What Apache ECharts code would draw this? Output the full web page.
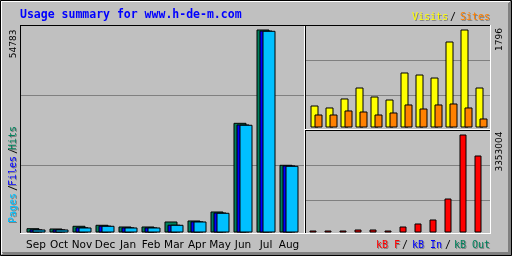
<!DOCTYPE html>
<html><head><meta charset="utf-8">
<script src="https://cdn.jsdelivr.net/npm/echarts@6/dist/echarts.min.js"></script>
<style>html,body{margin:0;padding:0;background:#c0c0c0}#c{width:512px;height:256px}</style>
</head><body><div id="c"></div>
<script>
const months = ['Sep','Oct','Nov','Dec','Jan','Feb','Mar','Apr','May','Jun','Jul','Aug'];
const hits   = [1160, 1080, 1810, 2080, 1620, 1620, 2970, 3240, 5670, 29600, 54783, 18270];
const files  = [850, 840, 1400, 1850, 1380, 1370, 2100, 3000, 5400, 29150, 54500, 18100];
const pages  = [810, 810, 1350, 1810, 1350, 1350, 2080, 2970, 5320, 29070, 54430, 18000];
const visits = [403, 367, 532, 733, 568, 513, 1008, 971, 916, 1576, 1796, 733];
const sites  = [238, 238, 312, 293, 238, 275, 422, 348, 422, 440, 367, 165];
const kbytes = [68000, 68000, 68000, 103000, 103000, 68000, 205000, 308000, 445000, 1163000, 3353004, 2634000];
const maxHits = 54783, maxVisits = 1796, maxKB = 3353004;
const title = 'Usage summary for www.h-de-m.com';

const MONO = "'DejaVu Sans Mono', monospace";
const SANS = "'DejaVu Sans', sans-serif";
const GREY = '#c0c0c0', DK = '#808080';

const chart = echarts.init(document.getElementById('c'), null, {renderer:'canvas'});

function gridAxis(idx){ // panel gridline axes
  return {
    x: {gridIndex: idx, type:'value', min:0, max:1, show:false},
    y: {gridIndex: idx, type:'value', min:0, max: idx===0?210:105, interval:35*(idx===0?2:1),
        axisLine:{show:false}, axisTick:{show:false}, axisLabel:{show:false},
        splitLine:{show:true, showMinLine:false, showMaxLine:false, lineStyle:{color:DK, width:1}}}
  };
}
function barAxes(idx, max, showLabels){
  return {
    x: {gridIndex: idx, type:'category', data: months, boundaryGap:true,
        axisLine:{show:false}, axisTick:{show:false},
        axisLabel: showLabels ? {show:true, color:'#000', fontFamily:SANS, fontSize:10.5, margin:7, interval:0} : {show:false}},
    y: {gridIndex: idx, type:'value', min:0, max:max, show:false, splitLine:{show:false}}
  };
}
const g0 = gridAxis(0), g2 = gridAxis(2), g4 = gridAxis(4);
const b1 = barAxes(1, maxHits, true), b3 = barAxes(3, maxVisits, false), b5 = barAxes(5, maxKB, false);

function line(x1,y1,x2,y2,c){ return {type:'line', z:100, shape:{x1,y1,x2,y2}, style:{stroke:c, lineWidth:1}}; }
function txt(x,y,t,color,font,opts){
  opts = opts||{};
  return {type:'text', z:110, x:x, y:y, rotation: opts.rot||0,
    style:{text:t, fill:color, font:font, align:opts.align||'left', verticalAlign:'middle',
           textAlign:opts.align||'left', textVerticalAlign:'middle'}};
}
function shadowTxt(x,y,t,color,font,opts){
  return [txt(x+1,y+1,t,DK,font,opts), txt(x,y,t,color,font,opts)];
}
const LF = '10px ' + MONO;
const R = {rot:Math.PI/2};
const graphics = [
  // outer border
  {type:'rect', z:100, shape:{x:0.5,y:0.5,width:511,height:255}, style:{fill:'none', stroke:'#000', lineWidth:1}},
  line(1,1.5,510,1.5,'#fff'), line(1.5,1,1.5,254,'#fff'),
  line(509.5,2,509.5,255,DK), line(508.5,3,508.5,255,DK), line(510.5,1,510.5,255,DK),
  line(2,254.5,511,254.5,DK), line(3,253.5,511,253.5,DK), line(2,252.5,511,252.5,DK),
  // panel frame
  line(20,25.5,491,25.5,'#000'), line(20.5,25,20.5,234,'#000'),
  line(20,233.5,491,233.5,'#fff'), line(490.5,25,490.5,234,'#fff'),
  line(304.5,26,304.5,233,'#fff'), line(305.5,26,305.5,233,'#000'),
  line(305,129.5,490,129.5,'#fff'), line(305,130.5,490,130.5,'#000'),
  // title
  txt(20,15,title,'#0000ff','bold 11.5px '+MONO),
  // visits / sites legend
  ...shadowTxt(412,17,'Visits','#ffff00',LF), txt(450,17,'/','#000',LF), ...shadowTxt(460,17,'Sites','#ff8000',LF),
  // kB legend
  ...shadowTxt(376,245,'kB F','#ff0000',LF), txt(402,245,'/','#000',LF),
  ...shadowTxt(412,245,'kB In','#0000ff',LF), txt(445,245,'/','#000',LF),
  ...shadowTxt(454,245,'kB Out','#00805c',LF),
  // left vertical legend
  ...shadowTxt(13.7,223,'Pages','#00c0ff',LF,R),
  txt(13.7,191,'/','#000',LF,R),
  ...shadowTxt(13.7,186,'Files','#0000ff',LF,R),
  txt(13.7,154,'/','#000',LF,R),
  ...shadowTxt(13.7,150,'Hits','#00805c',LF,R),
  // max labels
  txt(13.7,29.5,String(maxHits),'#000','9px '+SANS,{rot:Math.PI/2, align:'right'}),
  txt(500,28,String(maxVisits),'#000','9px '+SANS,{rot:Math.PI/2, align:'right'}),
  txt(499.5,131.5,String(maxKB),'#000','9px '+SANS,{rot:Math.PI/2, align:'right'})
];

function barSeries(name, data, xi, color, w, gap){
  return {name, type:'bar', xAxisIndex:xi, yAxisIndex:xi, data, barWidth:w, barGap:gap,
    itemStyle:{color, borderColor:'#000', borderWidth:1}, emphasis:{disabled:true}, silent:true};
}

chart.setOption({
  animation:false,
  backgroundColor: GREY,
  grid:[
    {left:21, width:283, top:25.5, height:210},
    {left:24.5, width:276, top:29.5, height:203},
    {left:306, width:184, top:25.5, height:105},
    {left:309, width:180, top:29.5, height:98},
    {left:306, width:184, top:130.5, height:105},
    {left:305.5, width:180, top:134.5, height:98}
  ],
  xAxis:[g0.x, b1.x, g2.x, b3.x, g4.x, b5.x],
  yAxis:[g0.y, b1.y, g2.y, b3.y, g4.y, b5.y],
  series:[
    barSeries('Hits', hits, 1, '#00805c', 13, '-76.923%'),
    barSeries('Files', files, 1, '#0000ff', 13, '-76.923%'),
    barSeries('Pages', pages, 1, '#00c0ff', 13, '-76.923%'),
    barSeries('Visits', visits, 3, '#ffff00', 8, '-50%'),
    barSeries('Sites', sites, 3, '#ff8000', 8, '-50%'),
    barSeries('kB F', kbytes, 5, '#ff0000', 7, '0%')
  ],
  graphic: graphics
});
</script></body></html>
